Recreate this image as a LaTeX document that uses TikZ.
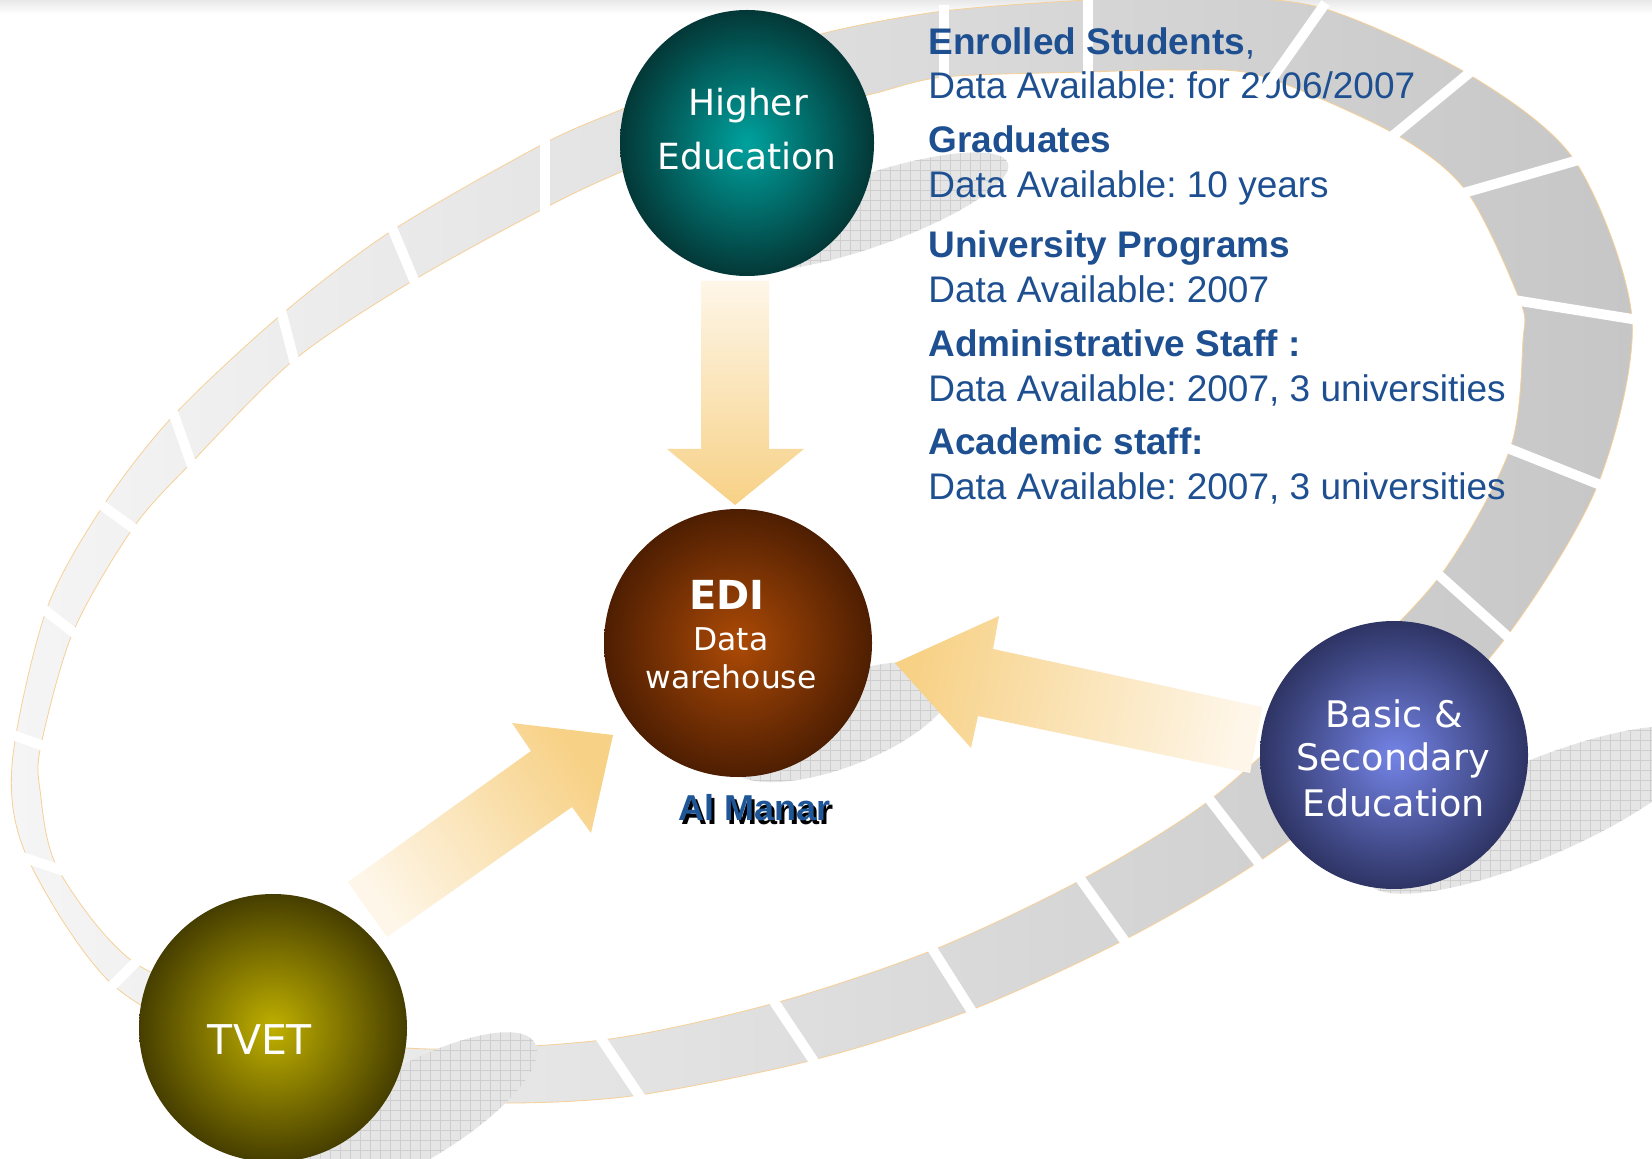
\documentclass[tikz,border=0pt]{standalone}
\usepackage{fontspec}
\setmainfont{Liberation Sans}
\newfontfamily\dvs{DejaVu Sans}
\usetikzlibrary{shapes.geometric}
\frenchspacing
\definecolor{infoblue}{RGB}{30,80,145}
\definecolor{manarblue}{RGB}{30,86,152}
\definecolor{bandL}{RGB}{245,245,245}
\definecolor{bandR}{RGB}{198,198,198}
\definecolor{bandedge}{RGB}{246,208,150}
\definecolor{arrD}{RGB}{247,209,134}
\definecolor{arrP}{RGB}{254,246,232}
\definecolor{shfill}{RGB}{229,229,229}
\definecolor{shgrid}{RGB}{206,206,206}
\definecolor{heI}{RGB}{0,162,158}
\definecolor{heO}{RGB}{3,56,55}
\definecolor{ediI}{RGB}{172,74,6}
\definecolor{ediO}{RGB}{78,30,2}
\definecolor{bseI}{RGB}{116,132,230}
\definecolor{bseO}{RGB}{46,52,100}
\definecolor{tvI}{RGB}{192,176,0}
\definecolor{tvO}{RGB}{70,62,0}
\tikzset{
 gapline/.style={white, line width=5pt, shorten <=-3pt, shorten >=-3pt},
 bandline/.style={draw=bandedge, line width=0.4pt},
 infotext/.style={anchor=base west, inner sep=0pt, text=infoblue, font=\fontsize{18.5}{22}\selectfont},
 infohead/.style={infotext, font=\fontsize{18.5}{22}\selectfont\bfseries},
 ctext/.style={anchor=base, inner sep=0pt, text=white},
 orb/.style={circle, inner sep=0pt, minimum size=134pt},
 shgridline/.style={draw=shgrid, line width=0.35pt},
}
\newcommand\bandouter{plot[smooth cycle] coordinates {(103,506) (174,415) (282,314) (393,230) (545,143) (625,108) (720,68) (825,33) (944,11) (1088,0) (1200,-3) (1322,8) (1468,74) (1575,161) (1632,319) (1598,484) (1507,636) (1390,762) (1258,862) (1124,940) (971,1010) (813,1060) (639,1095) (513,1103) (390,1097) (250,1058) (113,985) (28,859) (12,765) (46,611)}}
\newcommand\bandinner{plot[smooth cycle] coordinates {(133,528) (191,463) (294,360) (414,280) (545,208) (621,172) (740,125) (868,95) (944,77) (1088,72) (1180,70) (1262,76) (1395,134) (1467,192) (1520,301) (1523,340) (1510,449) (1440,576) (1330,690) (1210,800) (1081,880) (933,950) (775,1003) (602,1040) (407,1048) (270,1015) (135,963) (58,869) (40,790) (41,745) (73,632)}}
\newcommand\gridshadow[5]{%
 \begin{scope}
 \clip[rotate around={#1:(#2,#3)}] (#2,#3) ellipse [x radius=#4, y radius=#5];
 \fill[shfill] (#2-#4,#3-#4) rectangle (#2+#4,#3+#4);
 \foreach \g in {0,10,...,1700} \draw[shgridline] (\g,-10) -- (\g,1180);
 \foreach \g in {0,10,...,1180} \draw[shgridline] (-10,\g) -- (1700,\g);
 \end{scope}}
\begin{document}
\begin{tikzpicture}[x=0.5pt,y=-0.5pt]
\useasboundingbox (0,0) rectangle (1652,1159);
\fill[white] (0,0) rectangle (1652,1159);
\shade[top color=black!9, bottom color=white] (0,0) rectangle (1652,14);
% ring band
\shade[left color=bandL, right color=bandR, even odd rule] \bandouter \bandinner;
\draw[bandline] \bandouter;
\draw[bandline] \bandinner;
\foreach \ox/\oy/\ix/\iy in {1088/0/1088/72, 944/11/944/77, 545/143/545/208, 393/230/414/280, 282/314/294/360, 174/415/191/463, 103/506/133/528, 46/611/73/632, 13/735/41/745, 28/859/58/869, 113/985/135/963, 639/1095/602/1040, 813/1060/775/1003, 971/1010/933/950, 1124/940/1081/880, 1258/862/1210/800, 1507/636/1440/576, 1598/484/1510/449, 1632/319/1520/301, 1575/161/1467/192, 1468/74/1395/134}
  \draw[gapline] (\ox,\oy) -- (\ix,\iy);
% shadows
\gridshadow{19}{866}{212}{150}{36}
\gridshadow{21}{840}{722}{120}{45}
\gridshadow{23}{1535}{810}{182}{48}
\gridshadow{30}{405}{1118}{150}{48}
% info text
\node[infohead] (t1) at (928,55) {Enrolled Students\mdseries,};
\node[infotext] (t2) at (928,99) {Data Available: for 2006/2007};
\node[infohead] (t3) at (928,153) {Graduates};
\node[infotext] (t4) at (928,198) {Data Available: 10 years};
\node[infohead] (t5) at (928,258) {University Programs};
\node[infotext] (t6) at (928,303) {Data Available: 2007};
\node[infohead] (t7) at (928,357) {Administrative Staff :};
\node[infotext] (t8) at (928,402) {Data Available: 2007, 3 universities};
\node[infohead] (t9) at (928,455) {Academic staff:};
\node[infotext] (t10) at (928,500) {Data Available: 2007, 3 universities};
\draw[gapline] (1322,8) -- (1262,93);
% block arrows
\shade[top color=arrP, bottom color=arrD] (701,281) -- (769,281) -- (769,449) -- (804,449) -- (735,505) -- (667,449) -- (701,449) -- cycle;
\shade[top color=arrD, bottom color=arrP, shading angle=-54.5] (348,882) -- (531,751) -- (512,723) -- (613,735) -- (591,833) -- (572,807) -- (387,937) -- cycle;
\shade[top color=arrD, bottom color=arrP, shading angle=78] (1262,707) -- (993,649) -- (999,616) -- (895,663) -- (971,748) -- (978,716) -- (1250,773) -- cycle;
% spheres
\node[ellipse, inner sep=0pt, minimum width=127pt, minimum height=133pt, inner color=heI, outer color=heO] (he) at (747,143) {};
\node[orb, inner color=ediI, outer color=ediO] (edi) at (738,643) {};
\node[orb, inner color=bseI, outer color=bseO] (bse) at (1394,755) {};
\node[orb, inner color=tvI, outer color=tvO] (tv) at (273,1028) {};
% sphere labels
\node[ctext, font=\dvs\fontsize{18}{20}\selectfont] (heA) at (748,116) {Higher};
\node[ctext, font=\dvs\fontsize{18}{20}\selectfont] (heB) at (747,170) {Education};
\node[ctext, font=\dvs\fontsize{20}{22}\selectfont\bfseries] (ediA) at (727,610) {EDI};
\node[ctext, font=\dvs\fontsize{15.7}{18}\selectfont] (ediB) at (731,650) {Data};
\node[ctext, font=\dvs\fontsize{15.7}{18}\selectfont] (ediC) at (731,688) {warehouse};
\node[ctext, font=\dvs\fontsize{18.3}{20}\selectfont] (bseA) at (1394,727) {Basic \&};
\node[ctext, font=\dvs\fontsize{18.3}{20}\selectfont] (bseB) at (1393,770) {Secondary};
\node[ctext, font=\dvs\fontsize{18.3}{20}\selectfont] (bseC) at (1394,816) {Education};
\node[ctext, font=\dvs\fontsize{20.5}{22}\selectfont] (tvA) at (260,1054) {TVET};
% Al Manar
\node[anchor=base, inner sep=0pt, text=black, font=\fontsize{18}{20}\selectfont\bfseries] (amS) at (758,824) {Al Manar};
\node[anchor=base, inner sep=0pt, text=manarblue, font=\fontsize{18}{20}\selectfont\bfseries] (am) at (755,820) {Al Manar};
\end{tikzpicture}
\end{document}
